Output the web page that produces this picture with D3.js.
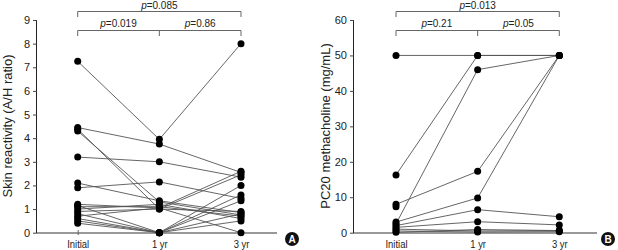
<!DOCTYPE html>
<html>
<head>
<meta charset="utf-8">
<script src="https://cdn.jsdelivr.net/npm/d3@7"></script>
<style>
body { margin: 0; background: #fff; }
svg { font-family: "Liberation Sans", Arial, sans-serif; }
</style>
</head>
<body>
<script>
const w = 618
const h = 250

const times = ['Initial', '1 yr', '3 yr']

// panel A: skin reactivity per subject [initial, 1 yr, 3 yr]
const skinA = [
	[7.25, 3.95, 8.0],
	[4.45, 3.75, 2.55],
	[4.38, 1.0, 2.45],
	[3.2, 3.0, 2.35],
	[4.3, 1.3, 0.75],
	[2.1, 1.35, 0.85],
	[1.9, 2.15, 1.45],
	[1.2, 1.05, 0.0],
	[1.1, 1.1, 0.7],
	[1.0, 1.2, 0.6],
	[0.9, 1.0, 0.9],
	[1.15, 0, 2.0],
	[0.8, 0, 1.6],
	[0.6, 0, 1.35],
	[0.5, 0, 0.5],
	[0.4, 0, 0.8],
	[0.7, 1.05, 2.6]
]
const ticksA = [0, 1, 2, 3, 4, 5, 6, 7, 8, 9]
const pA = ['0.085', '0.019', '0.86']

// panel B: PC20 methacholine per subject
const pc20B = [
	[50, 50, 50],
	[16.3, 50, 50],
	[2.5, 46, 50],
	[8, 17.3, 50],
	[3, 9.8, 50],
	[2, 6.5, 4.5],
	[1.5, 3.1, 2.2],
	[1, 0.5, 0.6],
	[0.5, 0.2, 0.3],
	[7.3, null, null],
	[0.1, 0.9, 0.6]
]
const ticksB = [0, 10, 20, 30, 40, 50, 60]
const pB = ['0.013', '0.21', '0.05']

const svg = d3.select('body')
	.append('svg')
	.attr('width', w)
	.attr('height', h)

function panel(o) {
	const g = svg.append('g')

	const x = d3.scalePoint()
		.domain(times)
		.range([o.x0, o.x1])

	const y = d3.scaleLinear()
		.domain([0, o.max])
		.range([232.7, 20])

	// y axis
	const yAxis = d3.axisLeft(y)
		.tickValues(o.ticks)
		.tickSize(4)
		.tickPadding(3)
	const ya = g.append('g')
		.attr('transform', `translate(${o.left},0)`)
		.call(yAxis)
	ya.select('.domain').attr('d', `M-0.5,20V233`).attr('stroke', '#222')
	ya.selectAll('.tick line').attr('stroke', '#444')
	ya.selectAll('.tick text').attr('font-size', 11).attr('fill', '#222')

	// x axis
	const xAxis = d3.axisBottom(x)
		.tickSize(4)
		.tickPadding(4)
	const xa = g.append('g')
		.attr('transform', 'translate(0,233)')
		.call(xAxis)
	xa.select('.domain')
		.attr('d', `M${o.left},0H${o.right}`)
		.attr('stroke', '#999')
		.attr('stroke-width', 2)
	xa.selectAll('.tick line').attr('stroke', '#666').attr('y1', -3).attr('y2', 2)
	xa.selectAll('.tick text').attr('font-size', 10.5).attr('fill', '#222')
		.attr('transform', 'scale(0.9,1)')

	// y title
	g.append('text')
		.attr('transform', `translate(${o.titleX},126) rotate(-90)`)
		.attr('text-anchor', 'middle')
		.attr('font-size', 13)
		.attr('fill', '#222')
		.text(o.title)

	// subject lines
	const line = d3.line()
		.defined(d => d[1] != null)
		.x(d => x(d[0]))
		.y(d => y(d[1]))

	g.selectAll('path.subj')
		.data(o.data)
		.enter()
		.append('path')
		.attr('class', 'subj')
		.attr('d', d => line(d.map((v, i) => [times[i], v])))
		.attr('fill', 'none')
		.attr('stroke', '#555')
		.attr('stroke-width', 0.9)

	const pts = []
	o.data.forEach(d => d.forEach((v, i) => { if (v != null) pts.push([times[i], v]) }))
	g.selectAll('circle.pt')
		.data(pts)
		.enter()
		.append('circle')
		.attr('class', 'pt')
		.attr('cx', d => x(d[0]))
		.attr('cy', d => y(d[1]))
		.attr('r', 3.5)
		.attr('fill', '#000')

	// brackets
	const xi = x(times[0]), xm = x(times[1]), xe = x(times[2])
	const br = g.append('g').attr('fill', 'none').attr('stroke', '#666').attr('stroke-width', 1)
	br.append('path').attr('d', `M${xi},17V11.5H${xe}V17`)
	br.append('path').attr('d', `M${xi},36V30.5H${xe}V36M${xm},30.5V36`)

	const lab = [[(xi + xe) / 2, 8.5, o.p[0]], [(xi + xm) / 2, 26.5, o.p[1]], [(xm + xe) / 2, 26.5, o.p[2]]]
	lab.forEach(l => {
		const t = g.append('text')
			.attr('x', l[0])
			.attr('y', l[1])
			.attr('text-anchor', 'middle')
			.attr('font-size', 10)
			.attr('fill', '#222')
		t.append('tspan').attr('font-style', 'italic').text('p')
		t.append('tspan').text('=' + l[2])
	})

	// panel letter
	g.append('circle')
		.attr('cx', o.letterX)
		.attr('cy', 239)
		.attr('r', 7)
		.attr('fill', '#111')
	g.append('text')
		.attr('x', o.letterX)
		.attr('y', 242.7)
		.attr('text-anchor', 'middle')
		.attr('font-size', 10)
		.attr('font-weight', 'bold')
		.attr('fill', '#fff')
		.text(o.letter)
}

panel({ x0: 77.7, x1: 241, left: 37, right: 277, max: 9, ticks: ticksA, data: skinA,
	title: 'Skin reactivity (A/H ratio)', titleX: 12, p: pA, letter: 'A', letterX: 292 })
panel({ x0: 396, x1: 559.3, left: 354, right: 597, max: 60, ticks: ticksB, data: pc20B,
	title: 'PC20 methacholine (mg/mL)', titleX: 330, p: pB, letter: 'B', letterX: 608 })
</script>
</body>
</html>
